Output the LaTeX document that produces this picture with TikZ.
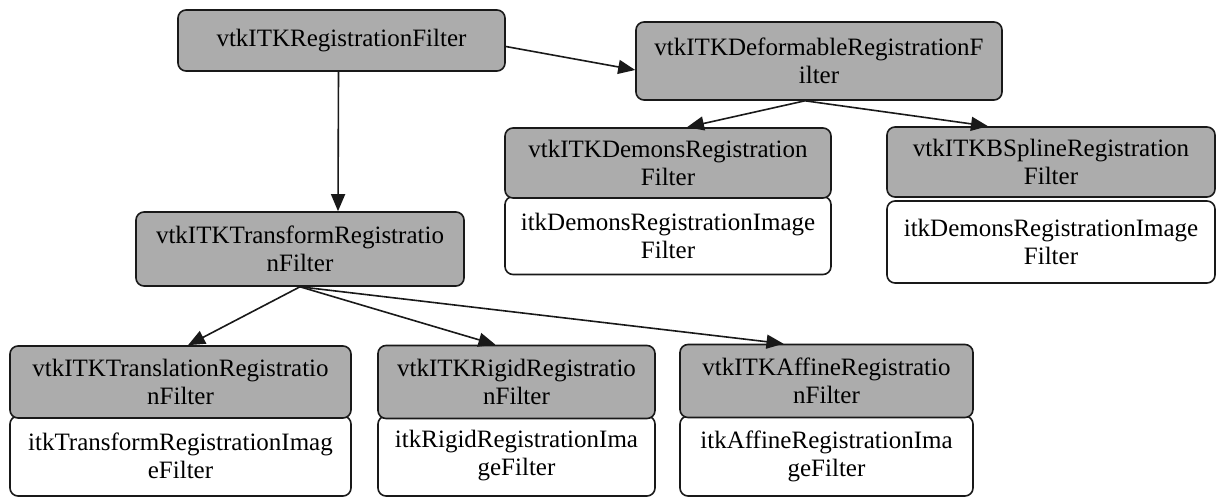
\documentclass[tikz,border=0pt]{standalone}
\usepackage{fontspec}
\setmainfont{Liberation Serif}
\usetikzlibrary{arrows.meta}
\definecolor{boxgray}{RGB}{172,172,172}
\definecolor{linec}{RGB}{25,25,25}
\tikzset{
  base/.style={draw=linec, line width=1.6pt, rounded corners=8pt, align=center, inner sep=0pt,
    font=\fontsize{25}{28}\selectfont, text=black},
  gbox/.style={base, fill=boxgray},
  wbox/.style={base, fill=white},
  arr/.style={draw=linec, line width=1.6pt, -{Triangle[length=17pt,width=14pt]}}
}
\begin{document}
\begin{tikzpicture}[x=1pt,y=-1pt]
\useasboundingbox (0,0) rectangle (1220,497);
% top
\node[gbox, minimum width=327pt, minimum height=61pt] (reg) at (341.5,40.5) {vtkITKRegistrationFilter};
\node[gbox, minimum width=366pt, minimum height=78pt] (def) at (819,61) {vtkITKDeformableRegistrationF\\ilter};
% demons
\node[wbox, minimum width=326pt, minimum height=78pt] (demW) at (668,235.5) {itkDemonsRegistrationImage\\Filter};
\node[gbox, minimum width=326pt, minimum height=70pt] (demG) at (668,163) {vtkITKDemonsRegistration\\Filter};
% bspline
\node[wbox, minimum width=328pt, minimum height=82pt] (bspW) at (1051,242) {itkDemonsRegistrationImage\\Filter};
\node[gbox, minimum width=328pt, minimum height=70pt] (bspG) at (1051,162) {vtkITKBSplineRegistration\\Filter};
% transform
\node[gbox, minimum width=328pt, minimum height=74pt] (tr) at (300,249) {vtkITKTransformRegistratio\\nFilter};
% bottom row
\node[wbox, minimum width=341pt, minimum height=80pt] (tlW) at (180.5,456) {itkTransformRegistrationImag\\eFilter};
\node[gbox, minimum width=341pt, minimum height=72pt] (tlG) at (180.5,382) {vtkITKTranslationRegistratio\\nFilter};
\node[wbox, minimum width=277pt, minimum height=80pt] (rgW) at (516.5,456) {itkRigidRegistrationIma\\geFilter};
\node[gbox, minimum width=277pt, minimum height=73pt] (rgG) at (516.5,382) {vtkITKRigidRegistratio\\nFilter};
\node[wbox, minimum width=293pt, minimum height=80pt] (afW) at (826.5,456) {itkAffineRegistrationIma\\geFilter};
\node[gbox, minimum width=293pt, minimum height=73pt] (afG) at (826.5,381) {vtkITKAffineRegistratio\\nFilter};
% arrows
\draw[arr] ([yshift=-6pt]reg.east) -- ([yshift=-9pt]def.west);
\draw[arr] ([xshift=-3pt]reg.south) -- ([xshift=38pt]tr.north);
\draw[arr] ([xshift=-14pt]def.south) -- ([xshift=19pt]demG.north);
\draw[arr] ([xshift=-14pt]def.south) -- ([xshift=-63pt]bspG.north);
\draw[arr] (tr.south) -- ([xshift=7.5pt]tlG.north);
\draw[arr] (tr.south) -- ([xshift=-21pt]rgG.north);
\draw[arr] (tr.south) -- ([xshift=-43pt]afG.north);
\end{tikzpicture}
\end{document}
